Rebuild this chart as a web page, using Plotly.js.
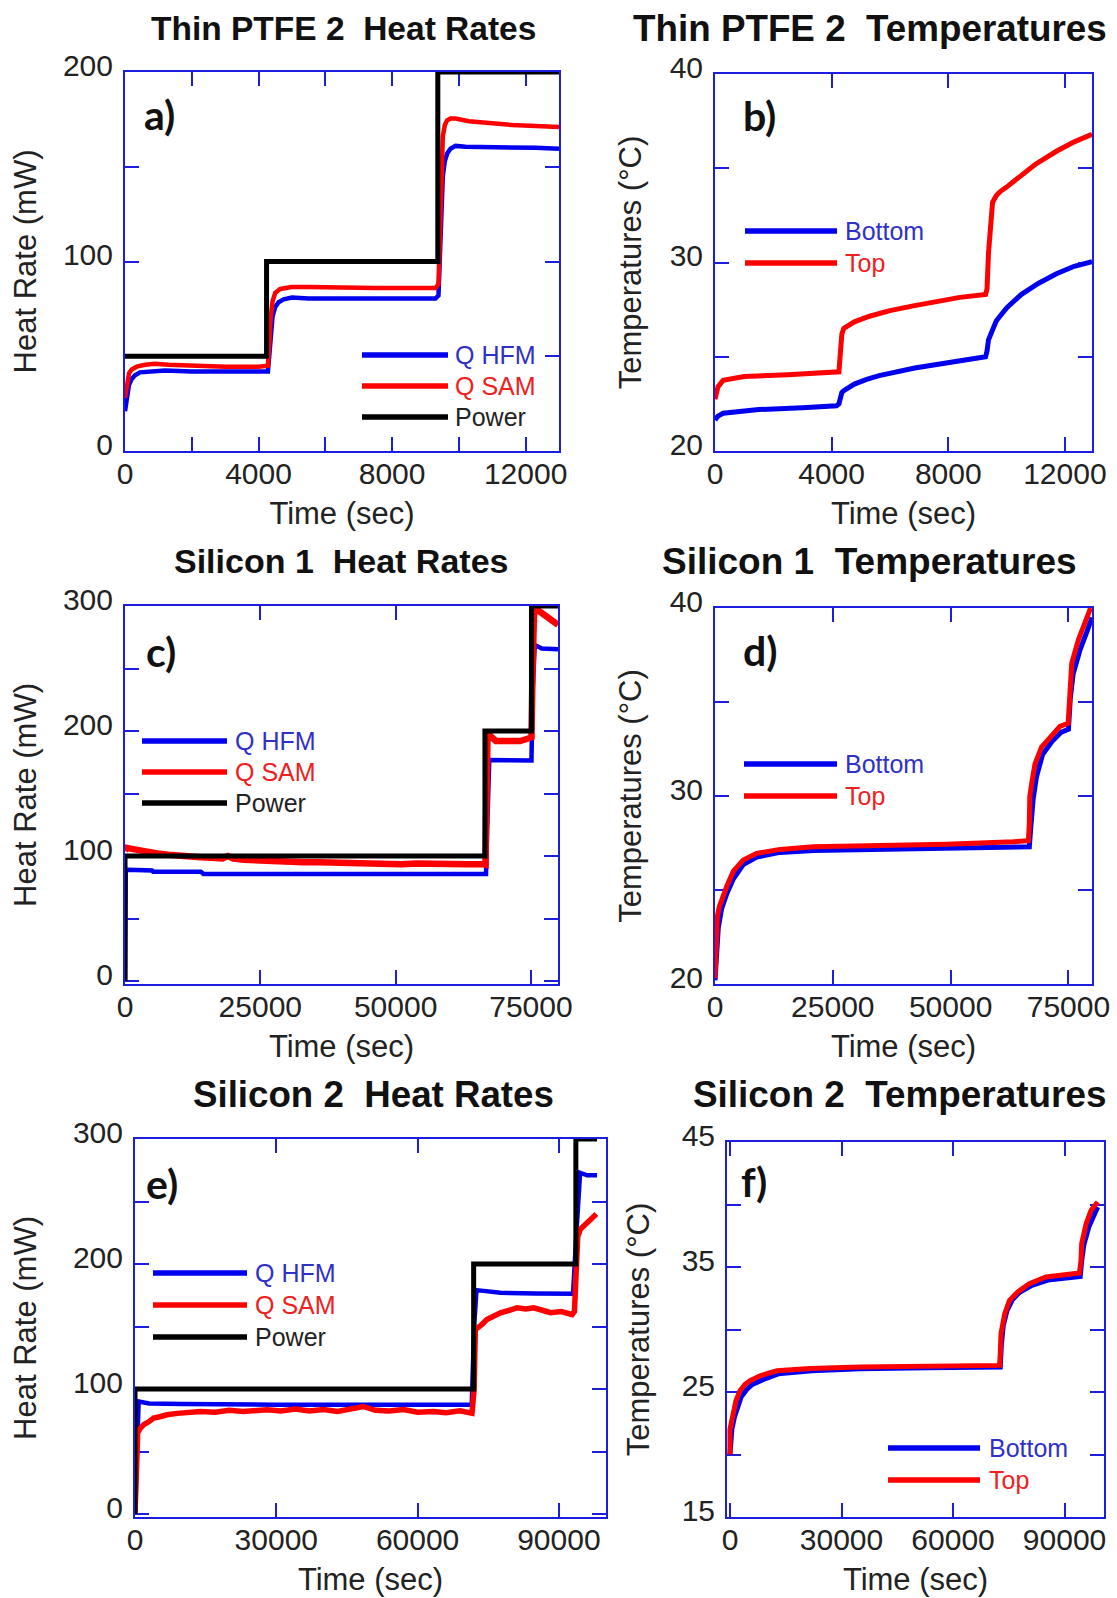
<!DOCTYPE html>
<html>
<head>
<meta charset="utf-8">
<script src="https://cdn.plot.ly/plotly-3.0.1.min.js"></script>
<style>
  html, body { margin: 0; padding: 0; background: #ffffff; }
  #chart { width: 1117px; height: 1598px; }
</style>
</head>
<body>
<div id="chart"></div>
<script>
// ---------------- DATA ----------------
// Panel a) Thin PTFE 2 heat rates (mW) vs time (sec)
const a_power_t = [0, 4240, 4240, 9370, 9370, 13000];
const a_power   = [50, 50, 100, 100, 200, 200];
const a_hfm_t = [0, 60, 120, 200, 300, 450, 700, 1200, 2000, 3000, 4000, 4280, 4320, 4360, 4420, 4500, 4600, 4750, 5000, 5500, 6500, 7500, 8500, 9300, 9390, 9420, 9450, 9480, 9520, 9580, 9650, 9750, 9900, 10200, 10800, 11500, 12300, 13000];
const a_hfm   = [21, 30, 35, 38, 40, 41.5, 42, 42.5, 42, 42, 42, 42, 50, 62, 71, 76, 78.5, 80, 81, 80.5, 80.5, 80.5, 80.5, 80.5, 82, 95, 115, 132, 145, 153, 157, 159.5, 161, 160.5, 160.5, 160, 160, 159.5];
const a_sam_t = [0, 60, 120, 200, 350, 600, 900, 1300, 2000, 3000, 4000, 4280, 4320, 4360, 4420, 4500, 4650, 5000, 5500, 6500, 7500, 8500, 9300, 9390, 9420, 9450, 9480, 9520, 9580, 9650, 9750, 9900, 10300, 10900, 11600, 12300, 13000];
const a_sam   = [28, 37, 41, 43, 44.5, 45.5, 46, 45.5, 45, 44.5, 44.5, 45, 56, 70, 79, 83.5, 85.5, 86.5, 86.5, 86, 86, 86, 86, 88, 108, 135, 155, 166, 172, 174.5, 175.5, 175.5, 174, 173, 172, 171.5, 171];

// Panel b) Thin PTFE 2 temperatures (°C)
const b_bot_t = [0, 100, 280, 1500, 3000, 4170, 4250, 4300, 4350, 4415, 4550, 4780, 5200, 5630, 6850, 8060, 9280, 9330, 9380, 9460, 9550, 9645, 9800, 10010, 10500, 11100, 11710, 12320, 12930];
const b_bot   = [21.65, 21.85, 22.0, 22.2, 22.3, 22.4, 22.5, 22.8, 23.1, 23.2, 23.35, 23.55, 23.8, 24.0, 24.4, 24.7, 25.0, 25.3, 25.9, 26.2, 26.5, 26.9, 27.2, 27.6, 28.3, 28.9, 29.4, 29.8, 30.05];
const b_top_t = [0, 100, 280, 1000, 2500, 4170, 4250, 4300, 4350, 4415, 4550, 4780, 5300, 6000, 6800, 7580, 8400, 9280, 9330, 9380, 9430, 9520, 9650, 9770, 10000, 10375, 10980, 11710, 12320, 12930];
const b_top   = [22.75, 23.4, 23.75, 23.95, 24.05, 24.15, 24.2, 25.2, 26.2, 26.5, 26.65, 26.85, 27.15, 27.45, 27.7, 27.95, 28.15, 28.3, 28.6, 30.5, 31.8, 33.2, 33.55, 33.75, 34.0, 34.45, 35.2, 35.9, 36.4, 36.8];

// Panel c) Silicon 1 heat rates (mW)
const c_power_t = [0, 0, 66500, 66500, 75100, 75100, 80000];
const c_power   = [0, 100, 100, 200, 200, 300, 300];
const c_hfm_t = [0, 150, 500, 5000, 5200, 14000, 14500, 30000, 50000, 66700, 66900, 67300, 75100, 75300, 75700, 77000, 80000];
const c_hfm   = [0, 89, 89, 88.5, 87.5, 87.5, 85.6, 85.6, 85.6, 85.6, 120, 176.8, 176.5, 230, 268.8, 266, 265.5];
const c_sam_t = [0, 300, 1500, 3000, 4500, 6000, 8000, 10000, 12000, 14000, 16000, 18000, 19000, 20000, 22000, 24000, 26000, 28000, 30000, 33000, 36000, 39000, 42000, 45000, 48000, 51000, 54000, 57000, 60000, 63000, 66000, 66600, 66800, 67000, 67500, 68500, 70000, 71500, 73000, 74500, 75100, 75300, 75600, 76500, 77500, 78500, 79500, 80000];
const c_sam   = [104, 106.5, 105.5, 104, 103, 102, 101, 100, 99.5, 99, 98.5, 98, 100, 98, 97, 96.5, 96.5, 96, 95.5, 95, 95, 94.5, 94.5, 94, 94, 93.5, 94, 93.5, 93.5, 93.5, 93.5, 93, 150, 200, 196, 192, 192, 191.5, 192, 194, 195, 250, 298, 296, 293, 291, 287, 285];

// Panel d) Silicon 1 temperatures (°C)
const d_bot_t = [0, 300, 700, 1400, 2500, 3900, 6000, 8840, 13800, 20900, 35000, 49200, 63300, 66700, 67000, 67500, 68200, 69500, 71500, 73500, 75000, 75400, 76000, 77500, 79000, 80000];
const d_bot   = [20.2, 21.6, 23.0, 24.0, 24.8, 25.6, 26.35, 26.75, 27.0, 27.1, 27.15, 27.2, 27.25, 27.3, 28.3, 29.8, 31.0, 32.2, 32.9, 33.4, 33.55, 35.2, 36.5, 37.8, 38.8, 39.5];
const d_top_t = [0, 200, 500, 900, 1400, 2500, 3900, 6000, 8840, 13800, 20900, 35000, 49200, 63300, 66500, 66700, 66800, 67200, 67900, 69300, 71100, 73200, 74950, 75100, 75200, 75700, 77100, 78500, 79700];
const d_top   = [20.3, 22.0, 23.6, 24.1, 24.5, 25.2, 26.0, 26.6, 26.95, 27.16, 27.3, 27.34, 27.43, 27.57, 27.62, 28.5, 29.96, 30.67, 31.7, 32.6, 33.15, 33.7, 33.87, 34.5, 36.0, 37.06, 38.3, 39.2, 40.0];

// Panel e) Silicon 2 heat rates (mW)
const e_power_t = [0, 0, 71900, 71900, 93600, 93600, 98100];
const e_power   = [0, 100, 100, 200, 200, 300, 300];
const e_hfm_t = [0, 400, 780, 3000, 10000, 30000, 50000, 71500, 72000, 72500, 74000, 77600, 85000, 93000, 93800, 94500, 96000, 98100];
const e_hfm   = [0, 60, 90, 88.5, 88, 87.5, 87.5, 87.5, 150, 179, 178.5, 177, 176.5, 176.2, 230, 273, 271, 271];
const e_sam_t = [0, 300, 570, 1000, 1840, 3000, 3960, 5500, 6800, 9000, 11000, 13900, 17000, 20000, 23000, 26000, 28000, 31000, 34000, 37000, 40000, 43000, 46000, 48500, 51000, 54000, 57000, 60000, 63400, 66000, 69000, 71550, 72000, 72260, 73500, 74700, 76000, 77600, 79500, 81100, 83000, 84600, 86500, 88200, 90500, 92800, 93300, 93600, 94000, 94550, 96000, 97950];
const e_sam   = [0, 35, 64.7, 68, 71.4, 74, 76.7, 78, 79.4, 80.5, 81, 82, 81.5, 83, 82, 83.5, 83.4, 82.5, 84, 82.5, 83.5, 82, 84, 86, 83, 82.5, 83.5, 81.5, 82, 81, 82.5, 80.7, 100, 147.6, 151, 155.6, 158, 161, 163, 165, 164, 165, 163, 161, 162, 159.6, 162, 198, 222, 227.8, 233, 240];

// Panel f) Silicon 2 temperatures (°C)
const f_bot_t = [0, 500, 1200, 2000, 3000, 4500, 6000, 9000, 13000, 22000, 35000, 53000, 71000, 72700, 73000, 73500, 74500, 76000, 78000, 81000, 85500, 94200, 94600, 95200, 96500, 98000, 98900];
const f_bot   = [20.0, 22.0, 23.0, 23.8, 24.6, 25.2, 25.6, 26.0, 26.45, 26.7, 26.85, 26.95, 27.0, 27.0, 28.8, 30.3, 31.5, 32.4, 33.0, 33.5, 33.95, 34.25, 35.5, 36.8, 38.2, 39.3, 39.8];
const f_top_t = [0, 0, 400, 900, 1600, 2700, 4000, 5400, 8100, 12600, 21500, 35000, 52800, 70800, 72500, 72700, 72900, 73900, 75200, 77400, 80500, 85000, 94000, 94400, 94600, 95800, 97100, 98900];
const f_top   = [20.0, 22.0, 22.6, 23.5, 24.3, 25.1, 25.6, 25.9, 26.3, 26.7, 26.87, 27.0, 27.08, 27.13, 27.13, 28.0, 29.67, 31.27, 32.33, 33.0, 33.67, 34.2, 34.52, 35.5, 36.87, 38.47, 39.53, 40.2];

// Tick values and labels
const ticks_a_x = [0, 2000, 4000, 6000, 8000, 10000, 12000];
const labels_a_x = ['0', '', '4000', '', '8000', '', '12000'];
const ticks_b_x = [0, 4000, 8000, 12000];
const labels_b_x = ['0', '4000', '8000', '12000'];
const ticks_cd_x = [0, 25000, 50000, 75000];
const labels_cd_x = ['0', '25000', '50000', '75000'];
const ticks_ef_x = [0, 30000, 60000, 90000];
const labels_ef_x = ['0', '30000', '60000', '90000'];
const ticks_q200 = [0, 50, 100, 150, 200];
const labels_q200 = ['0', '', '100', '', '200'];
const ticks_q300 = [0, 50, 100, 150, 200, 250, 300];
const labels_q300 = ['0', '', '100', '', '200', '', '300'];
const ticks_t2040 = [20, 25, 30, 35, 40];
const labels_t2040 = ['20', '', '30', '', '40'];
const ticks_t1545 = [15, 20, 25, 30, 35, 40, 45];
const labels_t1545 = ['15', '', '25', '', '35', '', '45'];

// Text
const panelTitles = ['Thin PTFE 2  Heat Rates', 'Thin PTFE 2  Temperatures', 'Silicon 1  Heat Rates', 'Silicon 1  Temperatures', 'Silicon 2  Heat Rates', 'Silicon 2  Temperatures'];
const panelLetters = ['a)', 'b)', 'c)', 'd)', 'e)', 'f)'];
const heatNames = ['Q HFM', 'Q SAM', 'Power'];
const tempNames = ['Bottom', 'Top'];
const xTitle = 'Time (sec)';
const yHeatTitle = 'Heat Rate (mW)';
const yTempTitle = 'Temperatures (°C)';

// ---------------- STYLE / LAYOUT ----------------
const W = 1117, H = 1598;
const AX = '#1d1de0';
const BLUE = '#0000ee';
const RED = '#ff0000';
const BLACK = '#000000';
const FONT = 'Liberation Sans, Arial, sans-serif';

const px = v => v / W;
const py = v => 1 - v / H;

function xAxis(x0, x1, range, tv, tt, anchor) {
  return {
    domain: [px(x0), px(x1)], range: range, anchor: anchor,
    tickmode: 'array', tickvals: tv, ticktext: tt,
    ticks: 'inside', ticklen: 14, tickwidth: 2, tickcolor: AX,
    showline: true, linecolor: AX, linewidth: 2, mirror: 'ticks',
    showgrid: false, zeroline: false, layer: 'below traces',
    tickfont: { family: FONT, size: 30, color: '#222' },
    ticklabelstandoff: -5,
    title: { text: xTitle, font: { family: FONT, size: 31, color: '#222' }, standoff: 13 },
    fixedrange: true
  };
}
function yAxis(y0, y1, range, tv, tt, anchor, title, standoff) {
  return {
    domain: [py(y1), py(y0)], range: range, anchor: anchor,
    tickmode: 'array', tickvals: tv, ticktext: tt,
    ticks: 'inside', ticklen: 14, tickwidth: 2, tickcolor: AX,
    showline: true, linecolor: AX, linewidth: 2, mirror: 'ticks',
    showgrid: false, zeroline: false, layer: 'below traces',
    tickfont: { family: FONT, size: 30, color: '#222' },
    ticklabelstandoff: 4, ticklabelshift: -7,
    title: { text: title, font: { family: FONT, size: 31, color: '#222' }, standoff: standoff },
    fixedrange: true
  };
}

function line(x, y, color, width, xa, ya, name) {
  return { type: 'scatter', mode: 'lines', x: x, y: y, name: name, xaxis: xa, yaxis: ya,
           line: { color: color, width: width }, hoverinfo: 'skip', showlegend: false };
}

const traces = [
  line(a_hfm_t, a_hfm, BLUE, 4.5, 'x', 'y', heatNames[0]),
  line(a_sam_t, a_sam, RED, 4.5, 'x', 'y', heatNames[1]),
  line(a_power_t, a_power, BLACK, 5, 'x', 'y', heatNames[2]),
  line(b_bot_t, b_bot, BLUE, 5, 'x2', 'y2', tempNames[0]),
  line(b_top_t, b_top, RED, 5, 'x2', 'y2', tempNames[1]),
  line(c_hfm_t, c_hfm, BLUE, 4.5, 'x3', 'y3', heatNames[0]),
  line(c_sam_t, c_sam, RED, 6.5, 'x3', 'y3', heatNames[1]),
  line(c_power_t, c_power, BLACK, 5, 'x3', 'y3', heatNames[2]),
  line(d_bot_t, d_bot, BLUE, 5, 'x4', 'y4', tempNames[0]),
  line(d_top_t, d_top, RED, 5, 'x4', 'y4', tempNames[1]),
  line(e_hfm_t, e_hfm, BLUE, 4.5, 'x5', 'y5', heatNames[0]),
  line(e_sam_t, e_sam, RED, 5.5, 'x5', 'y5', heatNames[1]),
  line(e_power_t, e_power, BLACK, 5, 'x5', 'y5', heatNames[2]),
  line(f_bot_t, f_bot, BLUE, 5, 'x6', 'y6', tempNames[0]),
  line(f_top_t, f_top, RED, 5, 'x6', 'y6', tempNames[1])
];

const layout = {
  width: W, height: H,
  margin: { l: 0, r: 0, t: 0, b: 0 },
  paper_bgcolor: '#ffffff', plot_bgcolor: '#ffffff',
  showlegend: false,
  font: { family: FONT, color: '#222' },
  xaxis:  xAxis(125, 559, [0, 13000], ticks_a_x, labels_a_x, 'y'),
  yaxis:  yAxis(72, 451, [0, 200], ticks_q200, labels_q200, 'x', yHeatTitle, 17),
  xaxis2: xAxis(715, 1092, [0, 12930], ticks_b_x, labels_b_x, 'y2'),
  yaxis2: yAxis(74, 451, [20, 40], ticks_t2040, labels_t2040, 'x2', yTempTitle, 19),
  xaxis3: xAxis(125, 558, [0, 80000], ticks_cd_x, labels_cd_x, 'y3'),
  yaxis3: yAxis(606, 984, [-2.4, 300], ticks_q300, labels_q300, 'x3', yHeatTitle, 17),
  xaxis4: xAxis(715, 1092, [0, 80000], ticks_cd_x, labels_cd_x, 'y4'),
  yaxis4: yAxis(608, 984, [20, 40], ticks_t2040, labels_t2040, 'x4', yTempTitle, 19),
  xaxis5: xAxis(135, 606, [0, 100000], ticks_ef_x, labels_ef_x, 'y5'),
  yaxis5: yAxis(1139, 1517, [-2.4, 300], ticks_q300, labels_q300, 'x5', yHeatTitle, 27),
  xaxis6: xAxis(727, 1104, [-800, 100600], ticks_ef_x, labels_ef_x, 'y6'),
  yaxis6: yAxis(1142, 1517, [15, 45], ticks_t1545, labels_t1545, 'x6', yTempTitle, 23),
  annotations: [],
  shapes: []
};

// Panel titles
const titlePos = [[343, 28], [870, 28], [341, 561], [869, 561], [373, 1094], [899, 1094]];
const titleSizes = [33.5, 36.8, 34, 37, 36.7, 36.9];
titlePos.forEach((p, i) => {
  layout.annotations.push({
    text: panelTitles[i], xref: 'paper', yref: 'paper', x: px(p[0]), y: py(p[1]),
    xanchor: 'center', yanchor: 'middle', showarrow: false,
    font: { family: FONT, size: titleSizes[i], color: '#111', weight: 'bold' }
  });
});

// Panel letters
const letterPos = [[142, 114], [741, 116], [144, 651], [741, 650], [144, 1183], [739, 1181]];
letterPos.forEach((p, i) => {
  layout.annotations.push({
    text: panelLetters[i], xref: 'paper', yref: 'paper', x: px(p[0]), y: py(p[1]),
    xanchor: 'left', yanchor: 'middle', showarrow: false,
    font: { family: 'Lato, Open Sans, sans-serif', size: 41, color: '#111', weight: 'bold' }
  });
});

// Legends (sample line + label)
function legend(x0, x1, xt, rows, names, colors, textColors) {
  rows.forEach((yy, i) => {
    layout.shapes.push({ type: 'line', xref: 'paper', yref: 'paper',
      x0: px(x0), x1: px(x1), y0: py(yy), y1: py(yy), line: { color: colors[i], width: 5.5 } });
    layout.annotations.push({ text: names[i], xref: 'paper', yref: 'paper', x: px(xt), y: py(yy),
      xanchor: 'left', yanchor: 'middle', showarrow: false,
      font: { family: FONT, size: 25, color: textColors[i] } });
  });
}
const heatLineColors = [BLUE, RED, BLACK];
const heatTextColors = ['#3030c8', '#ee2020', '#222222'];
const tempLineColors = [BLUE, RED];
const tempTextColors = ['#3030c8', '#ee2020'];
legend(362, 448, 453, [355, 386, 417], heatNames, heatLineColors, heatTextColors);
legend(745, 837, 843, [231, 263], tempNames, tempLineColors, tempTextColors);
legend(142, 227, 233, [741, 772, 803], heatNames, heatLineColors, heatTextColors);
legend(744, 837, 843, [764, 796], tempNames, tempLineColors, tempTextColors);
legend(153, 247, 253, [1273, 1305, 1337], heatNames, heatLineColors, heatTextColors);
legend(888, 980, 987, [1448, 1480], tempNames, tempLineColors, tempTextColors);

Plotly.newPlot('chart', traces, layout, { staticPlot: true, displayModeBar: false });
</script>
</body>
</html>
